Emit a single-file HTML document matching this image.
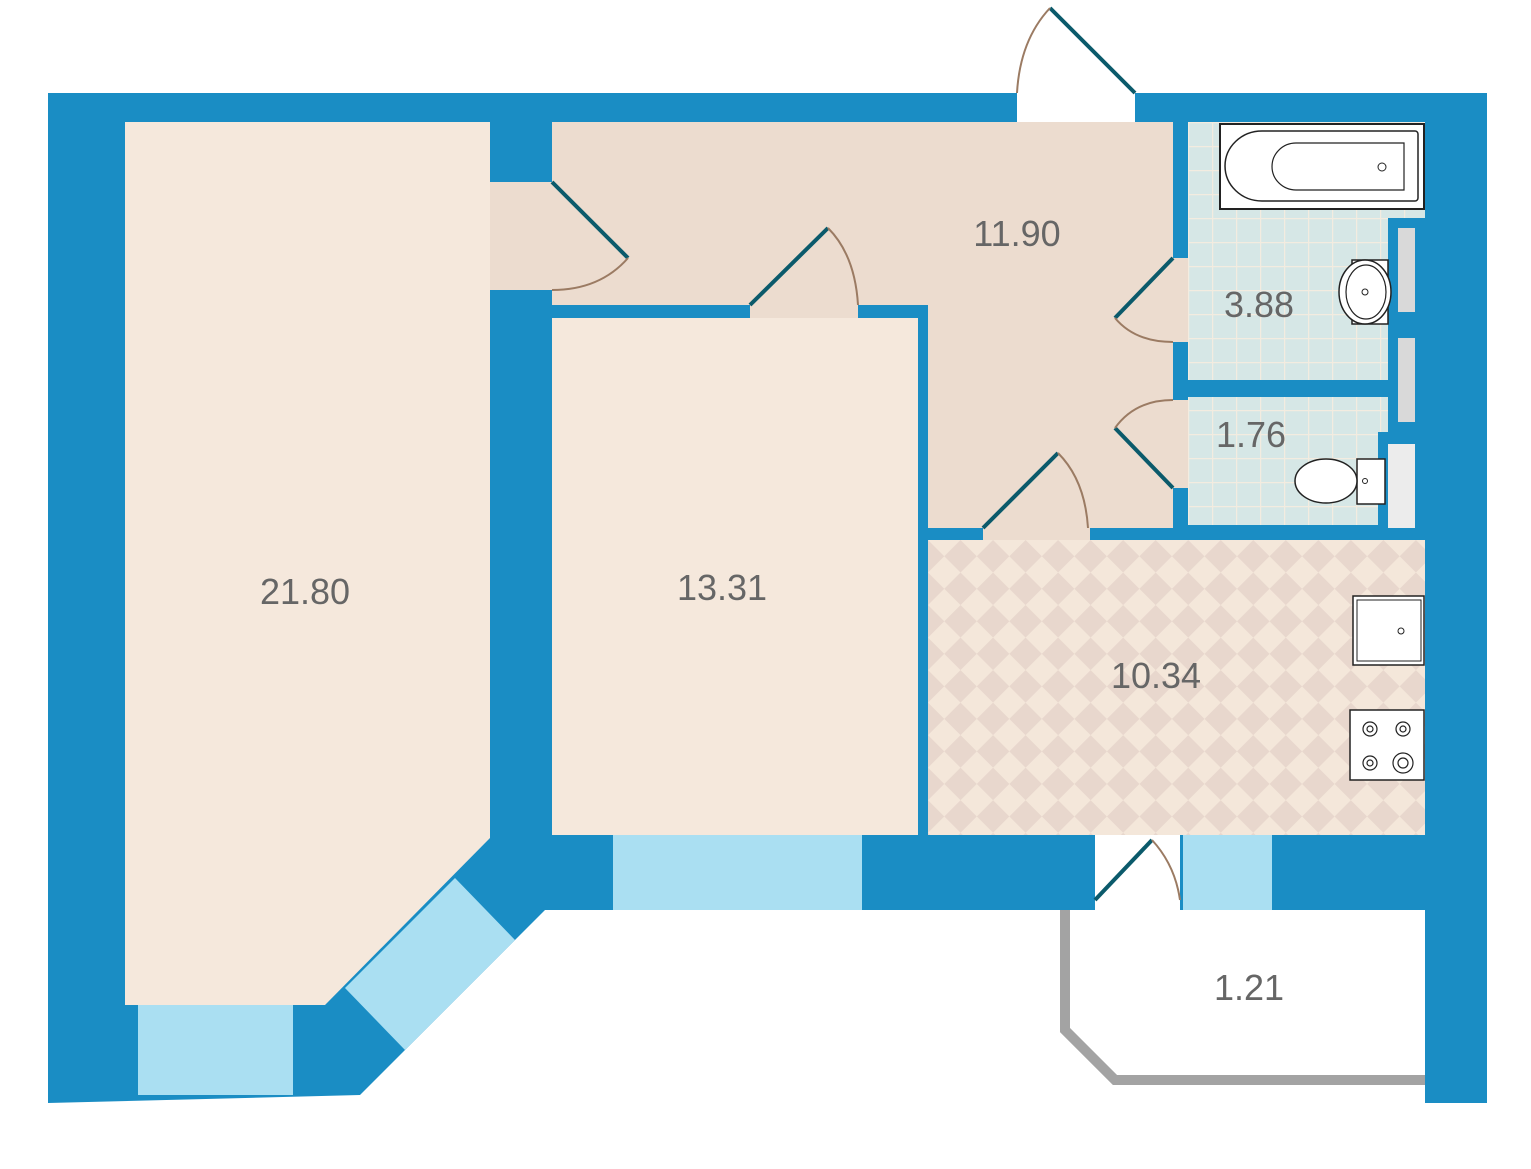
<!DOCTYPE html>
<html><head><meta charset="utf-8"><style>html,body{margin:0;padding:0;background:#fff}svg{display:block}</style></head><body>
<svg width="1531" height="1169" viewBox="0 0 1531 1169" xmlns="http://www.w3.org/2000/svg" font-family="Liberation Sans, sans-serif">
<defs>
<pattern id="chk" width="46" height="46" patternUnits="userSpaceOnUse" patternTransform="translate(928,540) rotate(45)">
<rect width="46" height="46" fill="#f4e7da"/><rect width="23" height="23" fill="#e8d7cd"/><rect x="23" y="23" width="23" height="23" fill="#e8d7cd"/></pattern>
<pattern id="tile" width="24" height="24" patternUnits="userSpaceOnUse" x="1188" y="122">
<rect width="24" height="24" fill="#d6e7e6"/><path d="M0 0.5H24M0.5 0V24" stroke="#f3ece0" stroke-width="1.5"/></pattern>
</defs>
<!-- balcony outline -->
<polyline points="1065,905 1065,1030 1115,1080 1425,1080" fill="none" stroke="#a3a3a3" stroke-width="10"/>
<!-- outer wall mass -->
<polygon points="48,93 1487,93 1487,1103 1425,1103 1425,910 545,910 360,1095 48,1103" fill="#1a8dc4"/>
<rect x="1017" y="90" width="118" height="33" fill="#fff"/>
<!-- hall -->
<rect x="490" y="122" width="683" height="418" fill="#ecdccf"/>
<rect x="490" y="122" width="62" height="60" fill="#1a8dc4"/>
<rect x="490" y="290" width="62" height="550" fill="#1a8dc4"/>
<!-- living -->
<polygon points="125,122 490,122 490,838 325,1005 125,1005" fill="#f5e8dc"/>
<!-- bedroom -->
<rect x="552" y="305" width="376" height="235" fill="#1a8dc4"/>
<rect x="750" y="305" width="108" height="14" fill="#ecdccf"/>
<rect x="552" y="318" width="366" height="517" fill="#f5e8dc"/>
<rect x="918" y="318" width="10" height="520" fill="#1a8dc4"/>
<!-- kitchen -->
<rect x="928" y="528" width="497" height="12" fill="#1a8dc4"/>
<rect x="983" y="528" width="107" height="12" fill="#ecdccf"/>
<rect x="928" y="540" width="497" height="295" fill="url(#chk)"/>
<!-- bath block walls -->
<rect x="1173" y="122" width="252" height="418" fill="#1a8dc4"/>
<rect x="1173" y="258" width="15" height="84" fill="#ecdccf"/>
<rect x="1173" y="400" width="15" height="88" fill="#ecdccf"/>
<rect x="1188" y="122" width="237" height="96" fill="url(#tile)"/>
<rect x="1188" y="122" width="200" height="258" fill="url(#tile)"/>
<rect x="1188" y="397" width="200" height="35" fill="url(#tile)"/>
<rect x="1188" y="397" width="190" height="128" fill="url(#tile)"/>
<rect x="1398" y="228" width="17" height="84" fill="#d9d9d9"/>
<rect x="1398" y="338" width="17" height="84" fill="#d9d9d9"/>
<rect x="1388" y="444" width="27" height="84" fill="#ececec"/>
<!-- windows -->
<rect x="138" y="1005" width="155" height="90" fill="#aadff2"/>
<rect x="613" y="835" width="249" height="75" fill="#aadff2"/>
<rect x="1183" y="835" width="89" height="75" fill="#aadff2"/>
<rect x="1095" y="835" width="85" height="75" fill="#fff"/>
<polygon points="345,988 405,1050 515,940 455,878" fill="#aadff2"/>
<!-- bathtub -->
<rect x="1220" y="124" width="204" height="85" fill="#fff" stroke="#222" stroke-width="2"/>
<path d="M1262,131 H1415 a3,3 0 0 1 3,3 V198 a3,3 0 0 1 -3,3 H1262 a37,35 0 0 1 0,-70Z" fill="#fff" stroke="#222" stroke-width="1.5"/>
<path d="M1296,143 H1404 V190 H1296 a24,23.5 0 0 1 0,-47Z" fill="#fff" stroke="#222" stroke-width="1.2"/>
<circle cx="1382" cy="167" r="4" fill="none" stroke="#222"/>
<!-- sink bath -->
<rect x="1352" y="260" width="36" height="64" fill="#fff" stroke="#222" stroke-width="1.5"/>
<ellipse cx="1365" cy="292" rx="26" ry="32" fill="#fff" stroke="#222" stroke-width="1.5"/>
<ellipse cx="1366" cy="292" rx="20" ry="27" fill="none" stroke="#222" stroke-width="1.2"/>
<circle cx="1365" cy="292" r="3" fill="none" stroke="#222"/>
<!-- toilet -->
<rect x="1357" y="459" width="28" height="45" fill="#fff" stroke="#222" stroke-width="1.5"/>
<ellipse cx="1326" cy="481" rx="31" ry="22" fill="#fff" stroke="#222" stroke-width="1.5"/>
<circle cx="1365" cy="481" r="2.5" fill="none" stroke="#222"/>
<!-- kitchen sink & stove -->
<rect x="1353" y="596" width="71" height="69" fill="#fff" stroke="#222" stroke-width="1.5"/>
<rect x="1357" y="600" width="64" height="61" fill="none" stroke="#222" stroke-width="1"/>
<circle cx="1401" cy="631" r="3" fill="none" stroke="#222"/>
<rect x="1350" y="710" width="74" height="70" fill="#fff" stroke="#222" stroke-width="1.5"/>
<g fill="none" stroke="#222" stroke-width="1.2">
<circle cx="1370" cy="729" r="7"/><circle cx="1370" cy="729" r="3"/>
<circle cx="1403" cy="729" r="7"/><circle cx="1403" cy="729" r="3"/>
<circle cx="1370" cy="763" r="7"/><circle cx="1370" cy="763" r="3"/>
<circle cx="1403" cy="763" r="10"/><circle cx="1403" cy="763" r="5"/></g>
<!-- doors -->
<g stroke="#0b5a6b" stroke-width="4" fill="none">
<line x1="552" y1="182" x2="628" y2="258"/>
<line x1="750" y1="305" x2="828" y2="228"/>
<line x1="1173" y1="258" x2="1115" y2="318"/>
<line x1="1173" y1="488" x2="1115" y2="428"/>
<line x1="983" y1="528" x2="1058" y2="453"/>
<line x1="1135" y1="93" x2="1050" y2="8"/>
<line x1="1095" y1="900" x2="1152" y2="840"/>
</g>
<g stroke="#9b7b63" stroke-width="2" fill="none">
<path d="M628,258 Q600,290 552,290"/>
<path d="M828,228 Q855,255 858,305"/>
<path d="M1115,318 Q1135,342 1173,342"/>
<path d="M1115,428 Q1135,400 1173,400"/>
<path d="M1058,453 Q1085,480 1088,528"/>
<path d="M1050,8 Q1020,40 1017,93"/>
<path d="M1152,840 Q1175,865 1180,900"/>
</g>
<!-- labels -->
<g fill="#666" font-size="36" text-anchor="middle">
<text x="305" y="604">21.80</text>
<text x="722" y="600">13.31</text>
<text x="1017" y="246">11.90</text>
<text x="1259" y="317">3.88</text>
<text x="1251" y="447">1.76</text>
<text x="1156" y="688">10.34</text>
<text x="1249" y="1000">1.21</text>
</g>
</svg>
</body></html>
